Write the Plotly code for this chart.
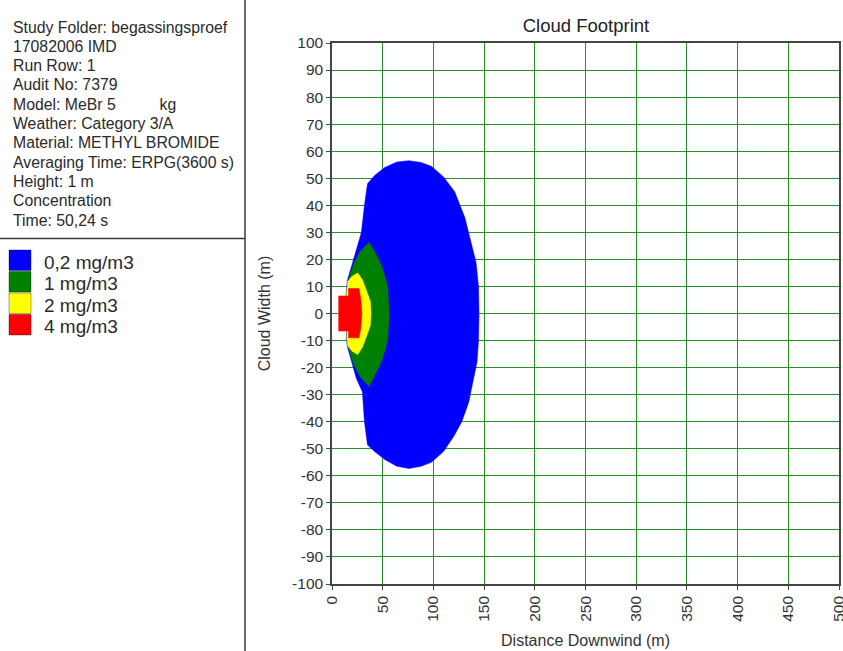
import plotly.graph_objects as go

# ---------------- data ----------------
info_lines = [
    "Study Folder: begassingsproef",
    "17082006 IMD",
    "Run Row: 1",
    "Audit No: 7379",
    "Model: MeBr 5" + "\u00a0" * 10 + "kg",
    "Weather: Category 3/A",
    "Material: METHYL BROMIDE",
    "Averaging Time: ERPG(3600 s)",
    "Height: 1 m",
    "Concentration",
    "Time: 50,24 s",
]

levels = ["0,2 mg/m3", "1 mg/m3", "2 mg/m3", "4 mg/m3"]
level_colors = ["#0000FF", "#008000", "#FFFF00", "#FF0000"]

blue_x = [13.5, 14, 15, 19.5, 24, 29, 32, 35, 42, 52, 64, 76, 88, 98, 110, 121, 131, 137, 142, 144.5,
          145, 144.5, 143, 138, 135, 128, 120, 110, 98, 88, 76, 64, 52, 42, 35, 32, 30, 24, 19.5, 15, 14]
blue_y = [0, 8, 12, 18, 24, 30, 40, 48, 51, 54, 56, 56.5, 55.8, 54.4, 50.5, 45, 35.5, 27, 19, 10,
          0, -10, -18, -27, -32.6, -40, -45.5, -51, -55, -56.5, -57.3, -56.5, -54, -51, -48.6, -40, -29, -24, -18, -12, -8]

green_x = [14, 14.5, 16, 19, 21.7, 28, 36.6, 42, 48.4, 52, 55, 56.3, 55, 52, 48.4, 42, 36.6, 28, 21.7, 19, 16, 14.5]
green_y = [0, 8, 12, 16, 18.6, 23, 26.3, 23, 18, 14, 9.4, 0, -9.4, -14, -18, -23, -27, -23.5, -19, -16, -12, -8]

yellow_x = [14, 14.5, 15.5, 20, 25.4, 30, 33.6, 37.9, 38.5, 37.9, 33.6, 30, 25.4, 20, 15.5, 14.5]
yellow_y = [0, 8, 11.9, 13.8, 15, 12.5, 8.9, 4.4, 0, -4.4, -8.9, -12.5, -15.2, -14, -12, -8]

red_x = [6.3, 16.3, 16.3, 26.7, 28.5, 29.5, 28.5, 26.7, 16.3, 16.3, 6.3]
red_y = [6.5, 6.5, 9.2, 9.2, 5, 0, -5, -9, -9, -6.5, -6.5]

x_ticks = [0, 50, 100, 150, 200, 250, 300, 350, 400, 450, 500]
y_ticks = list(range(-100, 101, 10))

# ---------------- layout geometry ----------------
W, H = 843, 651
L, R, T, B = 332, 4, 43, 67
PW, PH = W - L - R, H - T - B

def px(xp):
    return (xp - L) / PW

def py(yp):
    return (H - B - yp) / PH

FONT = "Liberation Sans, Arial, sans-serif"

fig = go.Figure()
for xs, ys, col, name in [(blue_x, blue_y, level_colors[0], levels[0]),
                          (green_x, green_y, level_colors[1], levels[1]),
                          (yellow_x, yellow_y, level_colors[2], levels[2]),
                          (red_x, red_y, level_colors[3], levels[3])]:
    fig.add_trace(go.Scatter(x=xs, y=ys, fill="toself", fillcolor=col, mode="lines",
                             line=dict(color=col, width=0.5), name=name, showlegend=False,
                             hoverinfo="skip"))

shapes = [
    dict(type="line", xref="paper", yref="paper", x0=px(245), x1=px(245), y0=py(0), y1=py(H),
         line=dict(color="#3a3a3a", width=1.5)),
    dict(type="line", xref="paper", yref="paper", x0=px(0), x1=px(245), y0=py(238.5), y1=py(238.5),
         line=dict(color="#3a3a3a", width=1.5)),
]
annotations = []
for i, line in enumerate(info_lines):
    annotations.append(dict(xref="paper", yref="paper", x=px(11), y=py(27 + i * 19.3),
                            text=line, showarrow=False, xanchor="left", yanchor="middle",
                            font=dict(family=FONT, size=15.8, color="#2a2a2a")))

for i, (lab, col) in enumerate(zip(levels, level_colors)):
    top = 250 + i * 21.5
    shapes.append(dict(type="rect", xref="paper", yref="paper", x0=px(9), x1=px(31),
                       y0=py(top), y1=py(top + 20.5), fillcolor=col,
                       line=dict(color="rgba(0,0,0,0.35)", width=1)))
    annotations.append(dict(xref="paper", yref="paper", x=px(42), y=py(top + 12),
                            text=lab, showarrow=False, xanchor="left", yanchor="middle",
                            font=dict(family=FONT, size=19, color="#2a2a2a")))

grid_col = "rgb(40,145,40)"
fig.update_layout(
    width=W, height=H,
    margin=dict(l=L, r=R, t=T, b=B, autoexpand=False),
    paper_bgcolor="white", plot_bgcolor="white",
    font=dict(family=FONT, color="#333333"),
    title=dict(text="Cloud Footprint", x=586 / W, xanchor="center", y=1 - 26 / H, yanchor="middle",
               xref="container", yref="container", font=dict(family=FONT, size=18.5, color="#222222")),
    shapes=shapes, annotations=annotations,
    showlegend=False,
    xaxis=dict(range=[0, 500], tickvals=x_ticks, ticktext=[str(v) for v in x_ticks],
               tickangle=-90, showgrid=True, gridcolor=grid_col, gridwidth=1,
               zeroline=False, showline=True, linecolor="#444444", linewidth=1.5, mirror=True,
               ticks="outside", ticklen=4, tickcolor="#444444", ticklabeloverflow="allow",
               tickfont=dict(family=FONT, size=15.5, color="#333333"),
               title=dict(text="Distance Downwind (m)", standoff=14,
                          font=dict(family=FONT, size=16, color="#333333")),
               automargin=False, fixedrange=True),
    yaxis=dict(range=[-100, 100], tickvals=y_ticks, ticktext=[str(v) for v in y_ticks],
               showgrid=True, gridcolor=grid_col, gridwidth=1,
               zeroline=True, zerolinecolor=grid_col, zerolinewidth=1,
               showline=True, linecolor="#444444", linewidth=1.5, mirror=True,
               ticks="outside", ticklen=4, tickcolor="#444444", ticklabeloverflow="allow",
               tickfont=dict(family=FONT, size=15.5, color="#333333"),
               title=dict(text="Cloud Width (m)", standoff=18,
                          font=dict(family=FONT, size=16, color="#333333")),
               automargin=False, fixedrange=True),
)

fig.write_html("out.html", config={"displayModeBar": False})

# remove the browser's default page margin so the figure sits at the window's top-left corner
with open("out.html", "r", encoding="utf-8") as f:
    html = f.read()
html = html.replace("<head>", "<head><style>html,body{margin:0;padding:0;overflow:hidden;}</style>", 1)
with open("out.html", "w", encoding="utf-8") as f:
    f.write(html)
